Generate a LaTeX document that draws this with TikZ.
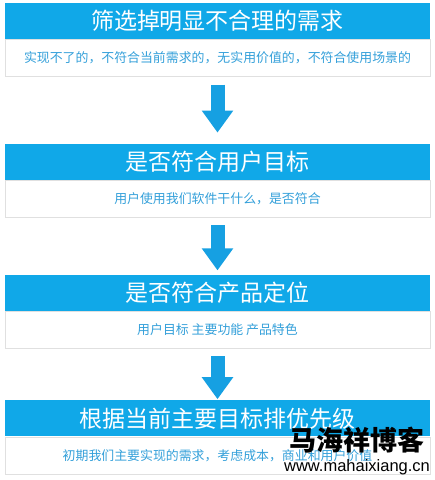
\documentclass[tikz,border=0pt]{standalone}
\usepackage{fontspec}
\newfontfamily\cjk{Noto Sans CJK SC}
\setsansfont{Liberation Sans}
\usetikzlibrary{arrows.meta,positioning}
\definecolor{barblue}{RGB}{16,168,232}
\definecolor{noteblue}{RGB}{52,160,218}
\definecolor{arrowblue}{RGB}{22,160,226}
\tikzset{
  titlebar/.style={fill=barblue, text=white, minimum width=425pt, minimum height=36pt, inner sep=0pt, font=\cjk\fontsize{23}{27}\selectfont},
  note/.style={fill=white, draw=black!12, text=noteblue, minimum width=425pt, minimum height=37pt, inner sep=0pt, font=\cjk\fontsize{12.9}{15}\selectfont},
  flow/.style={-{Triangle[length=22pt,width=30pt]}, line width=14pt, draw=arrowblue, shorten <=8pt}
}

\begin{document}
\begin{tikzpicture}[x=1pt, y=1pt, node distance=0pt]
\useasboundingbox (0,0) rectangle (435,-480);
\node[titlebar] (t1) at (217.5,-21) {筛选掉明显不合理的需求};
\node[note, below=of t1] (d1) {实现不了的，不符合当前需求的，无实用价值的，不符合使用场景的};
\node[titlebar, below=67pt of d1] (t2) {是否符合用户目标};
\node[note, below=of t2] (d2) {用户使用我们软件干什么，是否符合};
\node[titlebar, below=57pt of d2] (t3) {是否符合产品定位};
\node[note, below=of t3] (d3) {用户目标 主要功能 产品特色};
\node[titlebar, below=52pt of d3] (t4) {根据当前主要目标排优先级};
\node[note, below=of t4] (d4) {初期我们主要实现的需求，考虑成本，商业和用户价值};

\draw[flow, shorten >=11pt] (d1) -- (t2);
\draw[flow, shorten >=4pt] (d2) -- (t3);
\draw[flow, shorten >=1pt] (d3) -- (t4);

% watermark
\node[font=\cjk\bfseries\fontsize{27}{30}\selectfont, inner sep=0pt] (wm) at (357,-440) {马海祥博客};
\node[font=\sffamily\fontsize{16.5}{18}\selectfont, inner sep=0pt, below=6pt of wm] (url) {www.mahaixiang.cn};
\end{tikzpicture}
\end{document}
